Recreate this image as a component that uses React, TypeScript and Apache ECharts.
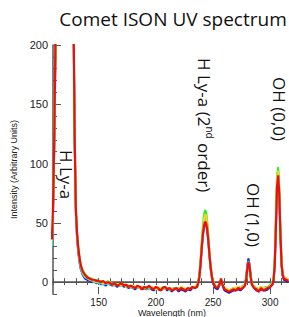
import React, { useEffect, useRef } from "react";
import * as echarts from "echarts";

const wavelengths = [
  109, 110, 111, 112, 113, 116, 121, 125, 127, 128,
  129, 130, 131, 132, 133, 134, 135, 136, 138, 140,
  142, 144, 146, 148, 150, 152, 154, 156, 158, 160,
  162, 164, 166, 168, 170, 172, 174, 176, 178, 180,
  182, 184, 186, 188, 190, 192, 194, 196, 198, 200,
  202, 204, 206, 208, 210, 212, 214, 216, 218, 220,
  222, 224, 226, 228, 230, 232, 234, 236, 237, 238,
  239, 240, 241, 242, 243, 244, 245, 246, 247, 248,
  249, 250, 252, 254, 256, 257, 258, 260, 262, 264,
  266, 268, 270, 272, 274, 276, 278, 279, 280, 281,
  282, 283, 284, 286, 288, 290, 292, 294, 296, 298,
  300, 302, 303, 304, 305, 306, 307, 308, 309, 310,
  311, 312, 314, 316,
];

const blueValues = [
  34, 58, 110, 185, 290, 520, 620, 520, 330, 218,
  116, 58, 38, 26, 18, 12, 9, 6, 3, 2,
  1, 0, 1, -1, 0, -2, 0, -3, -1, -2,
  -3, -2, -4, -3, -2, -4, -3, -5, -4, -5,
  -6, -4, -5, -6, -5, -6, -5, -6, -7, -5,
  -6, -7, -6, -5, -7, -6, -8, -6, -6, -8,
  -6, -7, -8, -6, -7, -5, -5, -4, -1, 4,
  13, 26, 38, 46, 50, 49, 43, 33, 21, 11,
  4, -1, -5, -6, -2, 2, -2, -7, -8, -9,
  -8, -7, -7, -6, -7, -5, -2, 4, 14, 20,
  15, 5, -2, -5, -7, -8, -6, -7, -7, -6,
  -4, -2, 1, 13, 43, 78, 88, 72, 38, 14,
  5, 2, 1, 0,
];

const cyanValues = [
  30, 56, 108, 185, 290, 520, 620, 520, 330, 218,
  118, 60, 40, 28, 19, 13, 9, 7, 4, 3,
  2, 1, 0, 0, -1, -1, -2, -1, -2, -1,
  -2, -3, -2, -3, -3, -2, -3, -4, -3, -4,
  -4, -5, -4, -5, -5, -4, -6, -5, -5, -6,
  -5, -6, -5, -6, -5, -7, -6, -5, -6, -5,
  -5, -5, -6, -6, -5, -5, -4, -3, 0, 5,
  15, 29, 42, 51, 55, 54, 47, 36, 23, 12,
  5, 0, -3, -4, -1, 2, -2, -5, -6, -7,
  -6, -5, -6, -5, -5, -3, -2, 3, 12, 18,
  14, 5, -1, -3, -5, -6, -4, -5, -4, -4,
  -2, 0, 3, 16, 50, 85, 93, 77, 42, 16,
  7, 4, 3, 2,
];

const greenValues = [
  34, 60, 112, 188, 290, 520, 620, 520, 330, 222,
  122, 64, 43, 31, 23, 17, 12, 10, 7, 5,
  3, 3, 1, 2, 0, 1, 0, -1, 1, -2,
  -1, -2, -2, -3, -1, -2, -4, -3, -3, -5,
  -4, -3, -5, -5, -4, -6, -4, -4, -5, -5,
  -6, -6, -4, -5, -5, -6, -6, -5, -6, -6,
  -4, -6, -6, -6, -5, -5, -4, -3, 0, 6,
  17, 32, 46, 56, 61, 59, 51, 38, 24, 13,
  5, 1, -3, -4, -2, 2, -2, -5, -6, -7,
  -6, -5, -6, -4, -5, -4, -2, 1, 10, 16,
  13, 4, -1, -4, -5, -6, -4, -6, -5, -4,
  -3, -1, 3, 18, 55, 90, 97, 80, 44, 17,
  7, 4, 3, 2,
];

const yellowValues = [
  35, 60, 112, 188, 290, 520, 620, 520, 330, 220,
  119, 61, 41, 29, 21, 15, 11, 8, 5, 4,
  2, 2, 1, 0, 1, 0, -1, 0, -1, 0,
  -2, -1, -2, -2, -3, -2, -3, -3, -4, -3,
  -4, -4, -5, -4, -5, -5, -4, -4, -5, -6,
  -5, -5, -6, -5, -5, -6, -5, -6, -5, -6,
  -4, -5, -6, -5, -5, -4, -4, -3, 0, 5,
  15, 30, 43, 52, 57, 56, 48, 36, 23, 12,
  5, 1, -3, -4, -1, 3, -1, -5, -6, -7,
  -6, -5, -5, -4, -5, -4, -2, 2, 11, 16,
  13, 4, -1, -4, -5, -6, -4, -5, -5, -4,
  -3, -1, 3, 16, 52, 87, 94, 78, 42, 16,
  7, 4, 3, 2,
];

const redValues = [
  36, 62, 115, 190, 290, 520, 620, 520, 330, 220,
  120, 62, 42, 30, 22, 16, 12, 9, 6, 4,
  3, 2, 2, 1, 1, 0, 1, -1, 0, -1,
  -2, -1, -3, -2, -1, -3, -2, -4, -3, -4,
  -5, -3, -4, -6, -4, -5, -3, -5, -6, -4,
  -5, -7, -5, -4, -6, -5, -7, -6, -5, -7,
  -5, -6, -7, -5, -6, -4, -5, -4, -1, 4,
  14, 27, 39, 47, 51, 50, 44, 34, 22, 12,
  5, 0, -4, -5, -1, 3, -1, -6, -7, -8,
  -7, -6, -7, -5, -6, -5, -3, 2, 11, 17,
  13, 4, -2, -5, -6, -8, -5, -7, -6, -5,
  -4, -2, 2, 14, 45, 80, 90, 74, 40, 15,
  6, 3, 2, 1,
];

const seriesList = [
  { name: "blue", color: "#1818d0", values: blueValues, width: 2 },
  { name: "cyan", color: "#28d4e6", values: cyanValues, width: 2 },
  { name: "green", color: "#38e830", values: greenValues, width: 2 },
  { name: "yellow", color: "#f0d818", values: yellowValues, width: 2 },
  { name: "red", color: "#ee0e0e", values: redValues, width: 2.2 },
];

const yLabelValues = [0, 50, 100, 150, 200];
const xLabelValues = [150, 200, 250, 300];

const title = "Comet ISON UV spectrum";
const yName = "Intensity (Arbitrary Units)";
const xName = "Wavelength (nm)";

export default function App() {
  const ref = useRef<HTMLDivElement>(null);
  useEffect(() => {
    if (!ref.current) return;
    const chart = echarts.init(ref.current, undefined, { renderer: "svg" });
    const axisColor = "#555";
    const tickFont = { fontFamily: "Liberation Sans", fontSize: 11, color: "#222" };
    const annFont = "17px 'Open Sans'";
    chart.setOption({
      animation: false,
      backgroundColor: "#fff",
      title: {
        text: title,
        left: 168,
        top: 4,
        textAlign: "center",
        textStyle: { fontFamily: "Open Sans", fontSize: 19, fontWeight: "normal", color: "#111" },
      },
      grid: { left: 53, top: 45, width: 240, height: 249, outerBoundsMode: "none", containLabel: false },
      xAxis: [
        {
          type: "value",
          min: 110,
          max: 320,
          interval: 10,
          axisLine: { show: true, lineStyle: { color: axisColor, width: 1.5 } },
          axisTick: { show: true, inside: true, length: 4, lineStyle: { color: axisColor } },
          axisLabel: {
            ...tickFont,
            fontSize: 10,
            lineHeight: 10,
            margin: 3,
            customValues: xLabelValues,
          },
          splitLine: { show: false },
        },
        {
          type: "value",
          position: "top",
          min: 110,
          max: 320,
          interval: 10,
          axisLine: { show: true, lineStyle: { color: axisColor, width: 1 } },
          axisTick: { show: true, inside: true, length: 3, lineStyle: { color: axisColor } },
          axisLabel: { show: false },
          splitLine: { show: false },
        },
        {
          type: "value",
          position: "bottom",
          min: 110,
          max: 320,
          axisLine: { show: false },
          axisTick: { show: true, inside: true, length: 7, customValues: xLabelValues, lineStyle: { color: axisColor } },
          axisLabel: { show: false },
          splitLine: { show: false },
        },
      ],
      yAxis: [
        {
          type: "value",
          min: -10,
          max: 200,
          interval: 10,
          axisLine: { show: true, lineStyle: { color: axisColor, width: 1.5 } },
          axisTick: { show: true, inside: true, length: 4, lineStyle: { color: axisColor } },
          axisLabel: { ...tickFont, margin: 5, customValues: yLabelValues },
          splitLine: { show: false },
          name: yName,
          nameLocation: "middle",
          nameGap: 33,
          nameTextStyle: { fontFamily: "Liberation Sans", fontSize: 9, color: "#222" },
        },
        {
          type: "value",
          position: "left",
          min: -10,
          max: 200,
          axisLine: { show: false },
          axisTick: { show: true, inside: true, length: 8, customValues: yLabelValues, lineStyle: { color: axisColor } },
          axisLabel: { show: false },
          splitLine: { show: false },
        },
      ],
      series: seriesList.map((s) => ({
        type: "line",
        name: s.name,
        xAxisIndex: 0,
        yAxisIndex: 0,
        data: wavelengths.map((w, i) => [w, s.values[i]]),
        showSymbol: false,
        symbol: "none",
        clip: true,
        lineStyle: { color: s.color, width: s.width },
        itemStyle: { color: s.color },
      })),
      graphic: [
        {
          type: "text",
          x: 172,
          y: 308,
          style: { text: xName, font: "9px 'Liberation Sans'", fill: "#222", textAlign: "center", textVerticalAlign: "top" },
        },
        {
          type: "text",
          x: 66,
          y: 150,
          rotation: -Math.PI / 2,
          style: { text: "H Ly-a", font: annFont, fill: "#111", textAlign: "left", textVerticalAlign: "middle" },
        },
        {
          type: "text",
          x: 204,
          y: 58,
          rotation: -Math.PI / 2,
          style: {
            text: "H Ly-a (2{sup|nd} order)",
            font: annFont,
            fill: "#111",
            textAlign: "left",
            textVerticalAlign: "middle",
            rich: {
              sup: { fontFamily: "Open Sans", fontSize: 10, fill: "#111", verticalAlign: "top", lineHeight: 22, padding: [0, 0, 8, 0] },
            },
          },
        },
        {
          type: "text",
          x: 253,
          y: 183,
          rotation: -Math.PI / 2,
          style: { text: "OH (1,0)", font: annFont, fill: "#111", textAlign: "left", textVerticalAlign: "middle" },
        },
        {
          type: "text",
          x: 279,
          y: 77,
          rotation: -Math.PI / 2,
          style: { text: "OH (0,0)", font: annFont, fill: "#111", textAlign: "left", textVerticalAlign: "middle" },
        },
      ],
    });
    return () => chart.dispose();
  }, []);
  return (
    <div
      ref={ref}
      style={{ position: "absolute", left: 0, top: 0, width: 289, height: 317 }}
    />
  );
}
